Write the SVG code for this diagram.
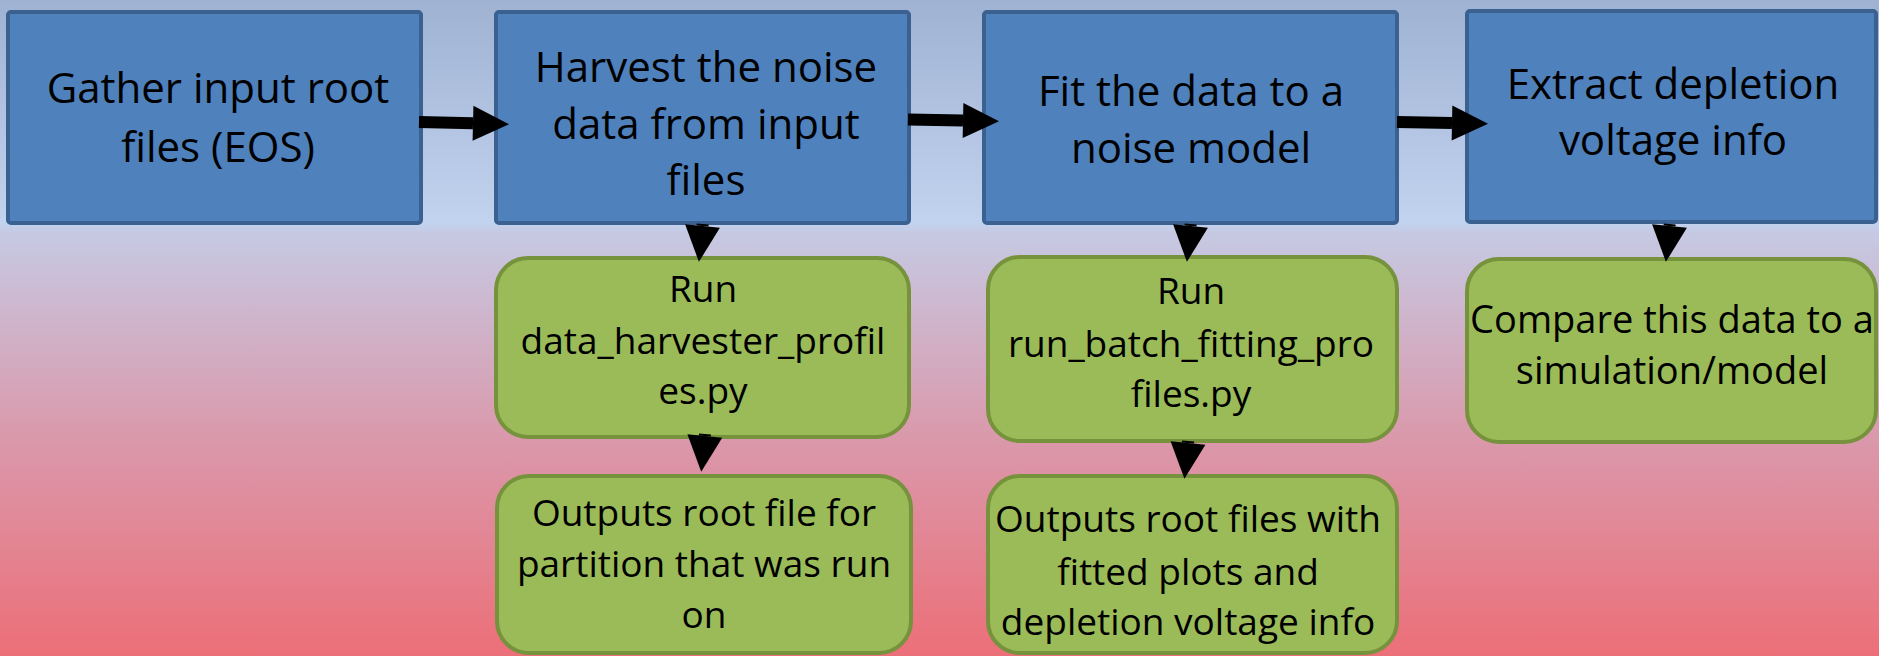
<svg xmlns="http://www.w3.org/2000/svg" width="1879" height="656" viewBox="0 0 1879 656">
<defs>
<linearGradient id="bg" x1="0" y1="0" x2="0" y2="656" gradientUnits="userSpaceOnUse">
<stop offset="0" stop-color="#9fb2d2"/>
<stop offset="0.34" stop-color="#c2d3ef"/>
<stop offset="0.355" stop-color="#c6c9e3"/>
<stop offset="0.65" stop-color="#d99bae"/>
<stop offset="1" stop-color="#ec6f78"/>
</linearGradient>
<marker id="head" markerUnits="userSpaceOnUse" markerWidth="40" markerHeight="40" refX="0" refY="17.5" orient="auto" overflow="visible">
<path d="M0,0 L36,17.5 L0,35 Z" fill="#000"/>
</marker>
</defs>
<style>
.blue{fill:#4f81bd;stroke:#3b6190;stroke-width:4}
.green{fill:#9bbb59;stroke:#76923c;stroke-width:4}
.t{font-family:"Open Sans","Noto Sans",sans-serif;fill:#000;text-anchor:middle}
.tb{font-size:42px}
.tg{font-size:37px}
.tc{font-size:38px}
.arr{stroke:#000;stroke-width:12;fill:none;marker-end:url(#head)}
</style>
<rect x="0" y="0" width="1879" height="656" fill="url(#bg)"/>
<g id="n1">
<rect class="blue" x="8" y="12" width="413" height="211" rx="3"/>
<text class="t tb" x="218" y="103">Gather input root</text>
<text class="t tb" x="218" y="162">files (EOS)</text>
</g>
<g id="n2">
<rect class="blue" x="496" y="12" width="413" height="211" rx="3"/>
<text class="t tb" x="706" y="82">Harvest the noise</text>
<text class="t tb" x="706" y="139">data from input</text>
<text class="t tb" x="706" y="195">files</text>
</g>
<g id="n3">
<rect class="blue" x="984" y="12" width="413" height="211" rx="3"/>
<text class="t tb" x="1191" y="106">Fit the data to a</text>
<text class="t tb" x="1191" y="163">noise model</text>
</g>
<g id="n4">
<rect class="blue" x="1467" y="11" width="409" height="211" rx="3"/>
<text class="t tb" x="1673" y="99">Extract depletion</text>
<text class="t tb" x="1673" y="155">voltage info</text>
</g>
<g id="n5">
<rect class="green" x="496" y="258" width="413" height="179" rx="32"/>
<text class="t tg" x="703" y="302">Run</text>
<text class="t tg" x="703" y="354">data_harvester_profil</text>
<text class="t tg" x="703" y="404">es.py</text>
</g>
<g id="n6">
<rect class="green" x="497" y="476" width="414" height="177" rx="32"/>
<text class="t tg" x="704" y="526">Outputs root file for</text>
<text class="t tg" x="704" y="577">partition that was run</text>
<text class="t tg" x="704" y="628">on</text>
</g>
<g id="n7">
<rect class="green" x="988" y="257" width="409" height="184" rx="32"/>
<text class="t tg" x="1191" y="304">Run</text>
<text class="t tg" x="1191" y="357">run_batch_fitting_pro</text>
<text class="t tg" x="1191" y="407">files.py</text>
</g>
<g id="n8">
<rect class="green" x="988" y="476" width="409" height="177" rx="32"/>
<text class="t tg" x="1188" y="532">Outputs root files with</text>
<text class="t tg" x="1188" y="585">fitted plots and</text>
<text class="t tg" x="1188" y="635">depletion voltage info</text>
</g>
<g id="n9">
<rect class="green" x="1467" y="259" width="409" height="183" rx="32"/>
<text class="t tc" x="1672" y="333">Compare this data to a</text>
<text class="t tc" x="1672" y="384">simulation/model</text>
</g>
<g id="connectors">
<line class="arr" x1="419" y1="122" x2="473" y2="123.3"/>
<line class="arr" x1="908" y1="119.4" x2="963" y2="120.5"/>
<line class="arr" x1="1397" y1="122" x2="1452" y2="123"/>
<line class="arr" x1="702.7" y1="224" x2="702.5" y2="226"/>
<line class="arr" x1="705" y1="434" x2="704.8" y2="436"/>
<line class="arr" x1="1190.7" y1="224" x2="1190.5" y2="226"/>
<line class="arr" x1="1188.2" y1="441" x2="1188" y2="443"/>
<line class="arr" x1="1669.7" y1="224" x2="1669.5" y2="226"/>
</g>
</svg>
